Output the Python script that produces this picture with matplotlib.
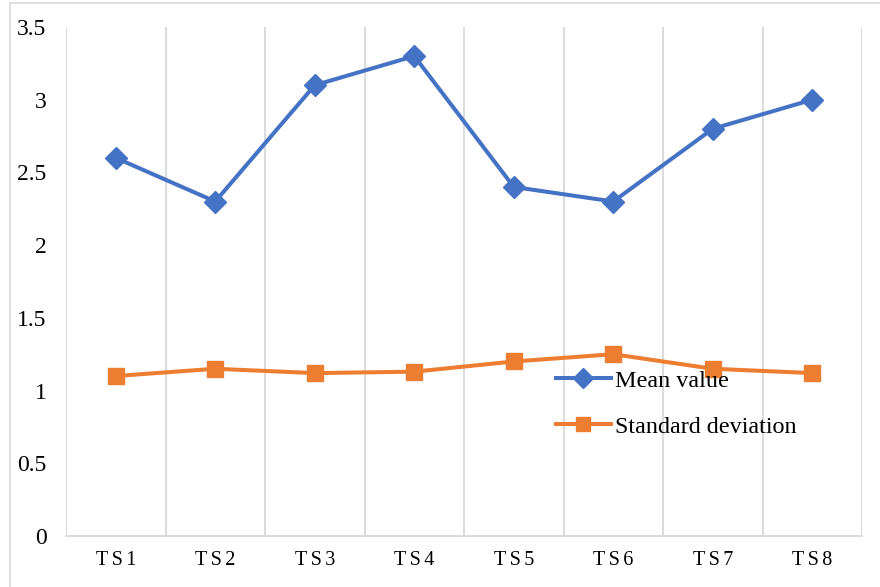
import matplotlib
matplotlib.use("Agg")
import matplotlib.pyplot as plt
from matplotlib.lines import Line2D
import numpy as np

categories = ["TS1", "TS2", "TS3", "TS4", "TS5", "TS6", "TS7", "TS8"]
mean_values = [2.6, 2.3, 3.1, 3.3, 2.4, 2.3, 2.8, 3.0]
std_values = [1.10, 1.15, 1.12, 1.13, 1.20, 1.25, 1.15, 1.12]
y_ticks = [0, 0.5, 1, 1.5, 2, 2.5, 3, 3.5]
y_tick_labels = ["0", "0.5", "1", "1.5", "2", "2.5", "3", "3.5"]

plt.rcParams['font.family'] = ['Liberation Serif', 'DejaVu Serif']

W, H = 880, 587
fig = plt.figure(figsize=(W / 100, H / 100), dpi=100)

# outer chart border (top and left visible)
fig.add_artist(Line2D([10 / W, 10 / W], [0, 1 - 3 / H], transform=fig.transFigure,
                      color="#d9d9d9", lw=1.2))
fig.add_artist(Line2D([10 / W, 1], [1 - 3 / H, 1 - 3 / H], transform=fig.transFigure,
                      color="#d9d9d9", lw=1.2))

left, right, top, bottom = 66, 862, 27, 536
ax = fig.add_axes([left / W, 1 - bottom / H, (right - left) / W, (bottom - top) / H])

x = np.arange(len(categories))
ax.set_xlim(-0.5, len(categories) - 0.5)
ax.set_ylim(0, 3.5)

for b in np.arange(-0.5, len(categories), 1.0):
    ax.axvline(b, color="#d9d9d9", lw=1.3, zorder=0)

blue = "#4472c4"
orange = "#ed7d31"
ax.plot(x, mean_values, color=blue, lw=2.9, marker="D", markersize=11.5,
        label="Mean value", zorder=3)
ax.plot(x, std_values, color=orange, lw=2.9, marker="s", markersize=12,
        label="Standard deviation", zorder=3)

for s in ["top", "right", "left"]:
    ax.spines[s].set_visible(False)
ax.spines["bottom"].set_color("#d9d9d9")
ax.spines["bottom"].set_linewidth(1.3)

ax.set_yticks(y_ticks)
ax.set_yticklabels(y_tick_labels, fontsize=17)
ax.set_xticks(x)
ax.set_xticklabels(["\u2006".join(c) for c in categories], fontsize=14.5)
ax.tick_params(axis="both", length=0)
ax.tick_params(axis="y", pad=14)
ax.tick_params(axis="x", pad=11)

ax.legend(loc="upper left", bbox_to_anchor=((546 - left) / (right - left), 1 - (360 - top) / (bottom - top)),
          frameon=False, fontsize=17.4, handlelength=2.3, handletextpad=0.17,
          labelspacing=1.0, borderaxespad=0, markerscale=0.85)

fig.savefig("out.png", dpi=100)
